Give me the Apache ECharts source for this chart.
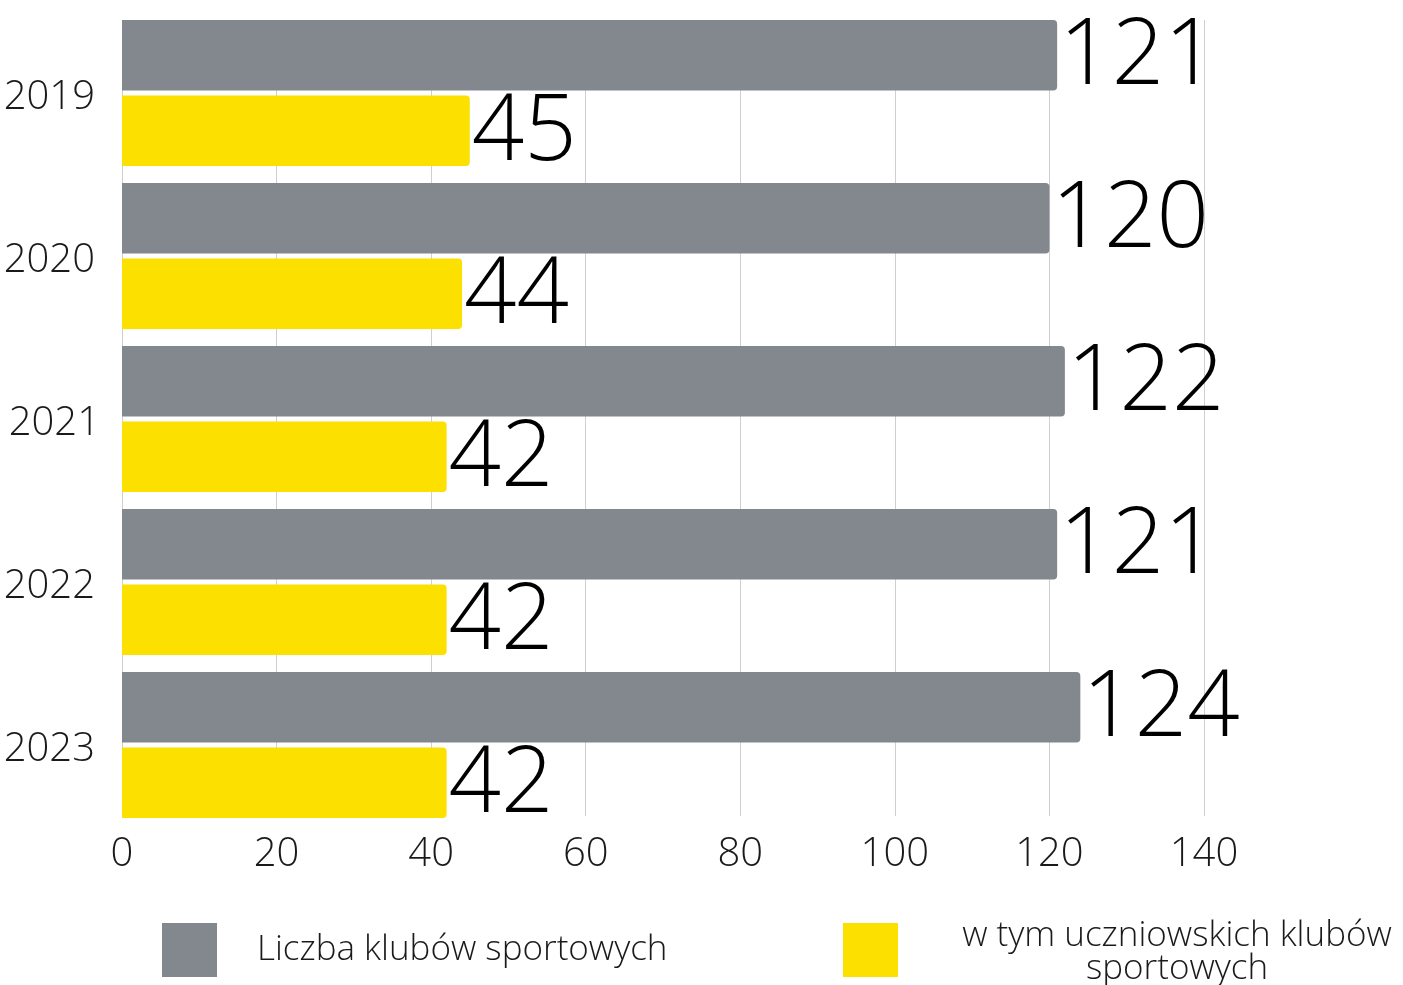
<!DOCTYPE html>
<html>
<head>
<meta charset="utf-8">
<script src="https://cdn.jsdelivr.net/npm/echarts@6/dist/echarts.min.js"></script>
<style>
  html, body { margin: 0; padding: 0; background: #fff; }
  #main { width: 1403px; height: 985px; }
</style>
</head>
<body>
<div id="main"></div>
<script>
var years = ['2019', '2020', '2021', '2022', '2023'];
var seriesNames = ['Liczba klubów sportowych', 'w tym uczniowskich klubów sportowych'];
var allClubs = [121, 120, 122, 121, 124];
var schoolClubs = [45, 44, 42, 42, 42];
var xTicks = [0, 140, 20]; // min, max, step

var chart = echarts.init(document.getElementById('main'));
var font = '"Open Sans", sans-serif';

var valueLabel = {
  show: true,
  position: 'right',
  distance: 2,
  offset: [0, 3],
  fontFamily: font,
  fontWeight: 300,
  fontSize: 92,
  color: '#000'
};

var yearStyle = {
  fontFamily: font,
  fontWeight: 300,
  fontSize: 40,
  color: '#1a1a1a',
  padding: [10, 0, 0, 0]
};

var option = {
  animation: false,
  // grid 0 holds the bars, grid 1 only draws the vertical lines and tick labels
  grid: [
    { left: 122, width: 1082, top: 11.5, height: 815 },
    { left: 122, width: 1082, top: 20, height: 796 }
  ],
  legend: [{
    data: [seriesNames[0]],
    left: 157,
    top: 918,
    itemWidth: 55,
    itemHeight: 54,
    icon: 'rect',
    textStyle: {
      fontFamily: font,
      fontWeight: 300,
      fontSize: 35,
      color: '#1a1a1a',
      padding: [6, 0, 0, 35]
    }
  }, {
    data: [seriesNames[1]],
    left: 838,
    top: 914,
    itemWidth: 55,
    itemHeight: 54,
    icon: 'rect',
    formatter: function () {
      return '{a|w tym uczniowskich klubów}\n{a|sportowych}';
    },
    textStyle: {
      padding: [6, 0, 0, 59],
      rich: {
        a: {
          fontFamily: font,
          fontWeight: 300,
          fontSize: 35,
          color: '#1a1a1a',
          width: 430,
          align: 'center',
          lineHeight: 33
        }
      }
    }
  }],
  xAxis: [{
    gridIndex: 0,
    type: 'value',
    min: xTicks[0],
    max: xTicks[1],
    interval: xTicks[2],
    show: false
  }, {
    gridIndex: 1,
    type: 'value',
    min: xTicks[0],
    max: xTicks[1],
    interval: xTicks[2],
    axisLine: { show: false },
    axisTick: { show: false },
    splitLine: { show: true, lineStyle: { color: '#cfcfcf', width: 1 } },
    axisLabel: {
      fontFamily: font,
      fontWeight: 300,
      fontSize: 40,
      color: '#1a1a1a',
      margin: 19
    }
  }],
  yAxis: [{
    gridIndex: 0,
    type: 'category',
    data: years,
    inverse: true,
    axisLine: { show: false },
    axisTick: { show: false },
    axisLabel: {
      margin: 27,
      formatter: function (v) {
        return v === '2021' ? '{b|' + v + '}' : '{a|' + v + '}';
      },
      rich: {
        a: yearStyle,
        b: Object.assign({}, yearStyle, { padding: [10, -5, 0, 0] })
      }
    }
  }, {
    gridIndex: 1,
    type: 'value',
    show: false
  }],
  series: [{
    name: seriesNames[0],
    type: 'bar',
    xAxisIndex: 0,
    yAxisIndex: 0,
    data: allClubs,
    barWidth: 70.5,
    barGap: '7%',
    itemStyle: { color: '#83888e', borderRadius: [0, 4, 4, 0] },
    label: valueLabel
  }, {
    name: seriesNames[1],
    type: 'bar',
    xAxisIndex: 0,
    yAxisIndex: 0,
    data: schoolClubs,
    barWidth: 70.5,
    barGap: '7%',
    itemStyle: { color: '#fce000', borderRadius: [0, 4, 4, 0] },
    label: valueLabel
  }]
};

chart.setOption(option);
</script>
</body>
</html>
